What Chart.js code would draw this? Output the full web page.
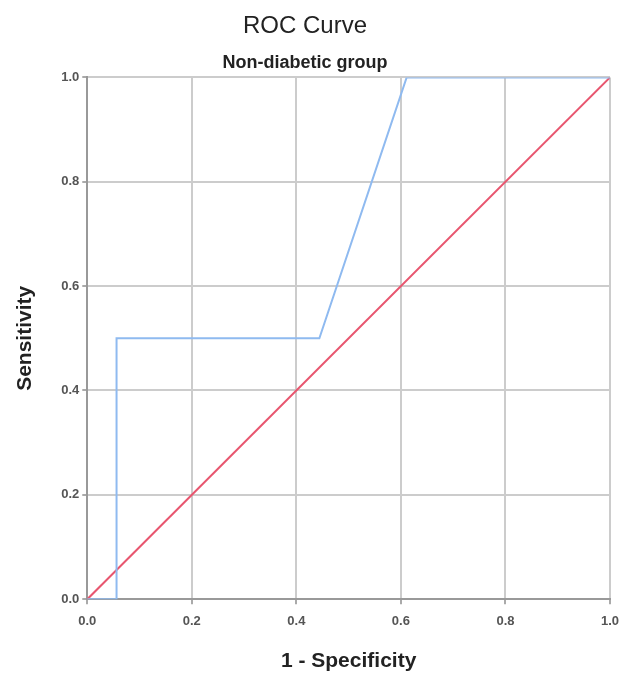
<!DOCTYPE html>
<html>
<head>
<meta charset="utf-8">
<script src="https://cdn.jsdelivr.net/npm/chart.js@4"></script>
<style>
  html, body { margin: 0; padding: 0; background: #fff; }
  #wrap { width: 623px; height: 677px; }
</style>
</head>
<body>
<div id="wrap"><canvas id="roc" width="623" height="677"></canvas></div>
<script>
// ROC points (1 - specificity, sensitivity)
const rocX = [0.0, 0.056, 0.056, 0.444, 0.611, 1.0];
const rocY = [0.0, 0.0, 0.5, 0.5, 1.0, 1.0];
// reference line
const refX = [0.0, 1.0];
const refY = [0.0, 1.0];
const tickValues = [0.0, 0.2, 0.4, 0.6, 0.8, 1.0];

const toPoints = (xs, ys) => xs.map((x, i) => ({ x: x, y: ys[i] }));

const FONT = 'Arial, "Liberation Sans"';

function gridOpts() {
    return { color: '#cccccc', lineWidth: 2, drawTicks: true, tickLength: 5, tickColor: '#aaa' };
}

new Chart(document.getElementById('roc'), {
    type: 'scatter',
    data: {
        datasets: [
            {
                label: 'ROC',
                data: toPoints(rocX, rocY),
                showLine: true,
                borderColor: '#8fbaf0',
                borderWidth: 2,
                pointRadius: 0,
                tension: 0
            },
            {
                label: 'Reference',
                data: toPoints(refX, refY),
                showLine: true,
                borderColor: '#e8566f',
                borderWidth: 2,
                pointRadius: 0,
                tension: 0
            }
        ]
    },
    options: {
        responsive: false,
        animation: false,
        layout: { padding: { top: 0, right: 13, bottom: 3, left: 0 } },
        plugins: {
            legend: { display: false },
            tooltip: { enabled: false },
            title: {
                display: true,
                text: 'ROC Curve',
                color: '#222',
                font: { family: FONT, size: 24, weight: 'normal' },
                padding: { top: 12, bottom: 6 }
            },
            subtitle: {
                display: true,
                text: 'Non-diabetic group',
                color: '#222',
                font: { family: FONT, size: 18, weight: 'bold' },
                padding: { top: 5, bottom: 4 }
            }
        },
        scales: {
            x: {
                type: 'linear',
                min: 0,
                max: 1,
                afterBuildTicks: axis => { axis.ticks = tickValues.map(v => ({ value: v })); },
                // keep the right edge from growing with the tick padding
                afterFit: axis => { axis.paddingRight = 0; },
                ticks: {
                    color: '#555',
                    font: { family: FONT, size: 13, weight: 'bold' },
                    padding: 9,
                    maxRotation: 0,
                    callback: v => v.toFixed(1)
                },
                grid: gridOpts(),
                border: { color: '#999', width: 2 },
                title: {
                    display: true,
                    text: '1 - Specificity',
                    color: '#222',
                    font: { family: FONT, size: 21, weight: 'bold' },
                    padding: { top: 11, bottom: 0 }
                }
            },
            y: {
                type: 'linear',
                min: 0,
                max: 1,
                afterBuildTicks: axis => { axis.ticks = tickValues.map(v => ({ value: v })); },
                ticks: {
                    color: '#555',
                    font: { family: FONT, size: 13, weight: 'bold' },
                    padding: 3,
                    callback: v => v.toFixed(1)
                },
                grid: gridOpts(),
                border: { color: '#999', width: 2 },
                title: {
                    display: true,
                    text: 'Sensitivity',
                    color: '#222',
                    font: { family: FONT, size: 21, weight: 'bold' },
                    padding: { top: 13, bottom: 20 }
                }
            }
        }
    }
});
</script>
</body>
</html>
